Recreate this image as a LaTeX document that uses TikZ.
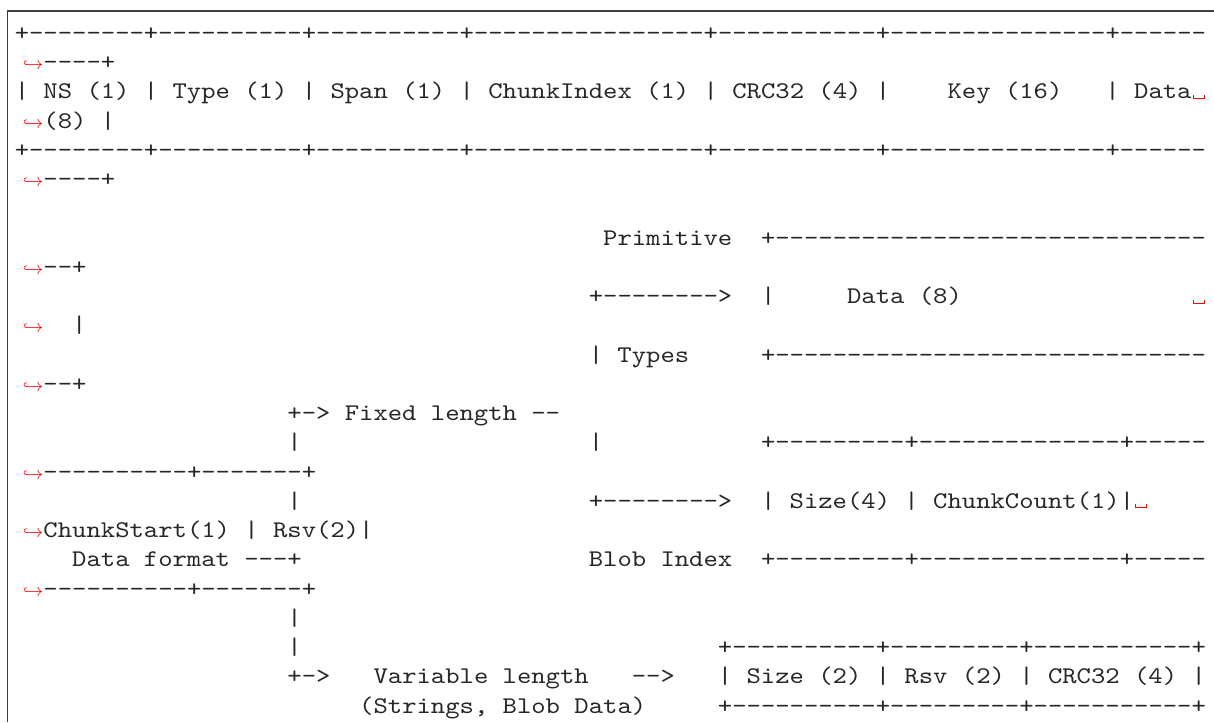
\documentclass[tikz,border=0pt]{standalone}
\usepackage{fontspec}
\setmonofont{lmmono10-regular}[Extension=.otf,FakeStretch=1.143]

\newcommand\wrapmark{\makebox[14.35pt][r]{\textcolor{red}{\fontsize{9}{9}\selectfont$\hookrightarrow$}}}
\newcommand\vspmark{\makebox[7.175pt]{\textcolor{red}{\rule{0.5pt}{2pt}\rule{5pt}{0.5pt}\rule{0.5pt}{2pt}}}}

\begin{document}
\begin{tikzpicture}[x=7.175pt,y=-14.625pt,
    txt/.style={anchor=base west,inner sep=0pt,outer sep=0pt,text=black!85,
      font=\ttfamily\fontsize{11.958}{14}\selectfont\frenchspacing},
    frame/.style={draw=black!75,line width=0.6pt}]
  \useasboundingbox (-1.031,-1.378) rectangle (83.568,23.306);
  \draw[frame] (-0.523,23.306) |- (83.568,-1.002);

  % record header
  \node[txt] (hdrtop) at (0,0) {+--------+----------+----------+----------------+-----------+---------------+------};
  \node[txt] (hdrtopw) at (0,1) {\wrapmark----+};
  \node[txt] (hdr) at (0,2) {| NS (1) | Type (1) | Span (1) | ChunkIndex (1) | CRC32 (4) |~~~~Key (16)~~~| Data\vspmark};
  \node[txt] (hdrw) at (0,3) {\wrapmark(8) |};
  \node[txt] (hdrbot) at (0,4) {+--------+----------+----------+----------------+-----------+---------------+------};
  \node[txt] (hdrbotw) at (0,5) {\wrapmark----+};

  % primitive types
  \node[txt] (primlbl) at (41,7) {Primitive};
  \node[txt] (primtop) at (52,7) {+------------------------------};
  \node[txt] (primtopw) at (0,8) {\wrapmark--+};
  \node[txt] (primarr) at (40,9) {+-------->};
  \node[txt] (primdata) at (52,9) {|~~~~~Data (8)};
  \node[txt] (primbrk) at (82,9) {\vspmark};
  \node[txt] (primdataw) at (0,10) {\wrapmark~~|};
  \node[txt] (typeslbl) at (40,11) {| Types};
  \node[txt] (primbot) at (52,11) {+------------------------------};
  \node[txt] (primbotw) at (0,12) {\wrapmark--+};

  % fixed length / blob index
  \node[txt] (fixed) at (19,13) {+-> Fixed length --};
  \node[txt] (trunka) at (19,14) {|};
  \node[txt] (fixedbar) at (40,14) {|};
  \node[txt] (blobtop) at (52,14) {+---------+--------------+-----};
  \node[txt] (blobtopw) at (0,15) {\wrapmark----------+-------+};
  \node[txt] (trunkb) at (19,16) {|};
  \node[txt] (blobarr) at (40,16) {+-------->};
  \node[txt] (blobrow) at (52,16) {| Size(4) | ChunkCount(1)|\vspmark};
  \node[txt] (blobroww) at (0,17) {\wrapmark ChunkStart(1) | Rsv(2)|};
  \node[txt] (fmtlbl) at (4,18) {Data format ---+};
  \node[txt] (bloblbl) at (40,18) {Blob Index};
  \node[txt] (blobbot) at (52,18) {+---------+--------------+-----};
  \node[txt] (blobbotw) at (0,19) {\wrapmark----------+-------+};

  % variable length
  \node[txt] (trunkc) at (19,20) {|};
  \node[txt] (trunkd) at (19,21) {|};
  \node[txt] (vartop) at (49,21) {+----------+---------+-----------+};
  \node[txt] (vararr) at (19,22) {+->};
  \node[txt] (varlbl) at (25,22) {Variable length};
  \node[txt] (varto) at (43,22) {-->};
  \node[txt] (varrow) at (49,22) {| Size (2) | Rsv (2) | CRC32 (4) |};
  \node[txt] (varsub) at (24,23) {(Strings, Blob Data)};
  \node[txt] (varbot) at (49,23) {+----------+---------+-----------+};
\end{tikzpicture}
\end{document}
